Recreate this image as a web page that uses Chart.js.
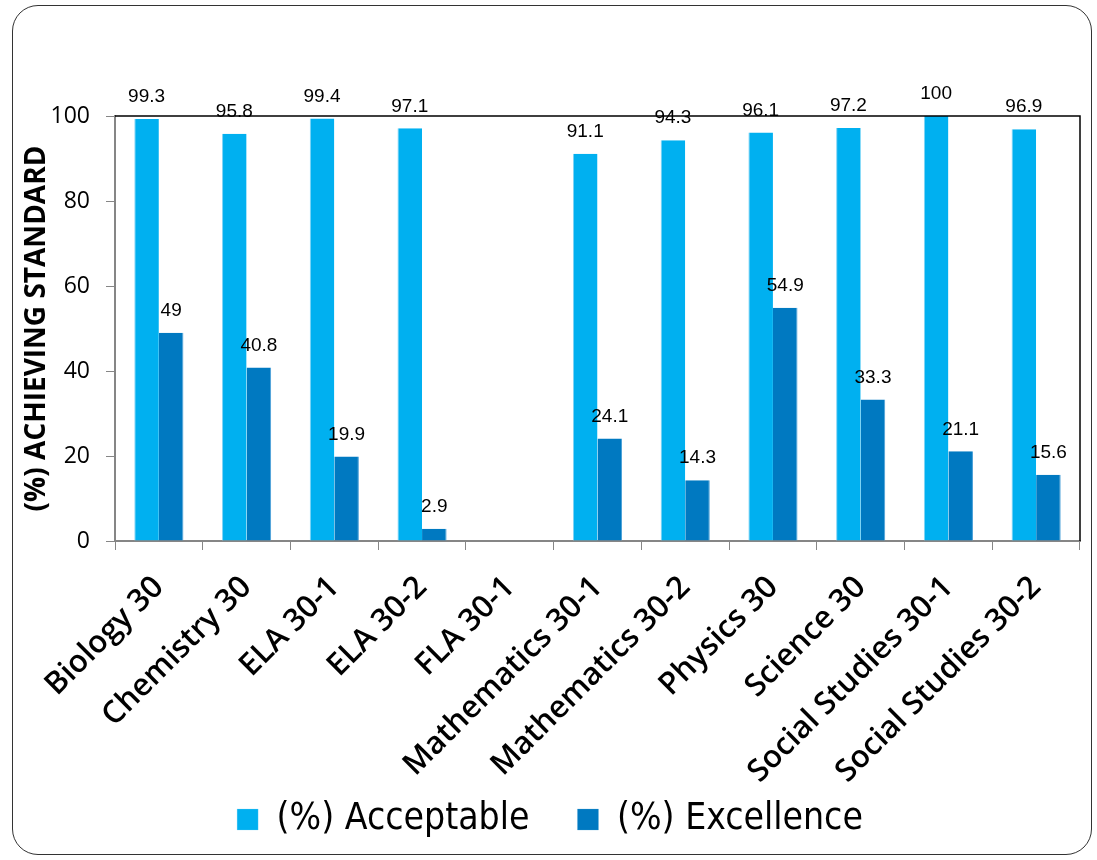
<!DOCTYPE html>
<html lang="en">
<head>
  <meta charset="UTF-8">
  <title>Diploma results</title>
  <script src="https://cdn.jsdelivr.net/npm/chart.js"></script>
  <style>
    html, body { margin: 0; padding: 0; background: #fff; }
    #frame { position: absolute; left: 12px; top: 5px; width: 1080px; height: 850px;
             border: 1.5px solid #333; border-radius: 26px; box-sizing: border-box; }
    #wrap { position: absolute; left: 0; top: 0; width: 1097px; height: 860px; }
  </style>
</head>
<body>
  <div id="frame"></div>
  <div id="wrap"><canvas id="chart" width="1097" height="860"></canvas></div>

  <script>
    // courses
    const courses = ['Biology 30', 'Chemistry 30', 'ELA 30-1', 'ELA 30-2', 'FLA 30-1',
      'Mathematics 30-1', 'Mathematics 30-2', 'Physics 30', 'Science 30',
      'Social Studies 30-1', 'Social Studies 30-2'];
    // (%) acceptable standard
    const acceptable = [99.3, 95.8, 99.4, 97.1, null, 91.1, 94.3, 96.1, 97.2, 100, 96.9];
    // (%) standard of excellence
    const excellence = [49, 40.8, 19.9, 2.9, null, 24.1, 14.3, 54.9, 33.3, 21.1, 15.6];
    const yTicks = [0, 20, 40, 60, 80, 100];

    const AXIS_GRAY = '#868686';

    // value labels above bars + black top/right border of plot area
    const barLabels = {
      id: 'barLabels',
      afterDatasetsDraw(chart) {
        const ctx = chart.ctx;
        const a = chart.chartArea;
        ctx.save();
        ctx.strokeStyle = '#000';
        ctx.lineWidth = 1.5;
        ctx.beginPath();
        ctx.moveTo(a.left, a.top);
        ctx.lineTo(a.right, a.top);
        ctx.lineTo(a.right, a.bottom);
        ctx.stroke();

        ctx.font = '19px "Liberation Sans", Arial, sans-serif';
        ctx.fillStyle = '#000';
        ctx.textAlign = 'center';
        ctx.textBaseline = 'middle';
        chart.data.datasets.forEach((ds, i) => {
          chart.getDatasetMeta(i).data.forEach((bar, j) => {
            const v = ds.data[j];
            if (v === null || v === undefined) return;
            ctx.fillText(String(v), bar.x, bar.y - 22);
          });
        });
        ctx.restore();
      }
    };

    new Chart(document.getElementById('chart'), {
      type: 'bar',
      data: {
        labels: courses,
        datasets: [
          { label: '(%) Acceptable', data: acceptable, backgroundColor: '#00B0F0',
            borderColor: '#7fd3f5', borderWidth: { left: 1, right: 0, top: 0, bottom: 0 } },
          { label: '(%) Excellence', data: excellence, backgroundColor: '#0079C1',
            borderColor: '#4aa0d8', borderWidth: { left: 0, right: 1, top: 0, bottom: 0 } }
        ]
      },
      options: {
        responsive: false,
        animation: false,
        categoryPercentage: 0.56,
        barPercentage: 1,
        layout: { padding: { left: 20, right: 17, top: 116, bottom: 12 } },
        plugins: {
          legend: {
            position: 'bottom',
            labels: {
              boxWidth: 21, boxHeight: 21, padding: 48, color: '#000',
              font: { family: '"DejaVu Sans Condensed", "DejaVu Sans", sans-serif', size: 37 }
            }
          },
          tooltip: { enabled: false }
        },
        scales: {
          x: {
            grid: { display: true, drawOnChartArea: false, drawTicks: true, tickLength: 9, color: AXIS_GRAY, offset: true },
            border: { color: AXIS_GRAY, width: 2 },
            ticks: {
              color: '#000', maxRotation: 45, minRotation: 45, autoSkip: false, padding: 19,
              font: { family: '"Open Sans", sans-serif', size: 31, weight: '600' }
            },
            afterFit(s) {
              const lg = s.chart.legend ? s.chart.legend.height : 0;
              s.height = s.chart.height - 12 - lg - 541;
              // long rotated labels run a bit past the axis box; don't clip them
              s._computeLabelArea = () => undefined;
            }
          },
          y: {
            min: 0, max: 100,
            afterBuildTicks(s) { s.ticks = yTicks.map(v => ({ value: v })); },
            grid: { display: true, drawOnChartArea: false, drawTicks: true, tickLength: 9, color: AXIS_GRAY },
            border: { color: AXIS_GRAY, width: 2 },
            ticks: {
              color: '#000', padding: 16,
              font: { family: '"Open Sans", sans-serif', size: 23 }
            },
            title: {
              display: true, text: '(%) ACHIEVING STANDARD', color: '#000',
              font: { family: '"Open Sans", sans-serif', size: 28, weight: 'bold' },
              padding: { top: 0, bottom: 0 }
            },
            afterFit(s) { s.width = 95; }
          }
        }
      },
      plugins: [barLabels]
    });
  </script>
</body>
</html>
